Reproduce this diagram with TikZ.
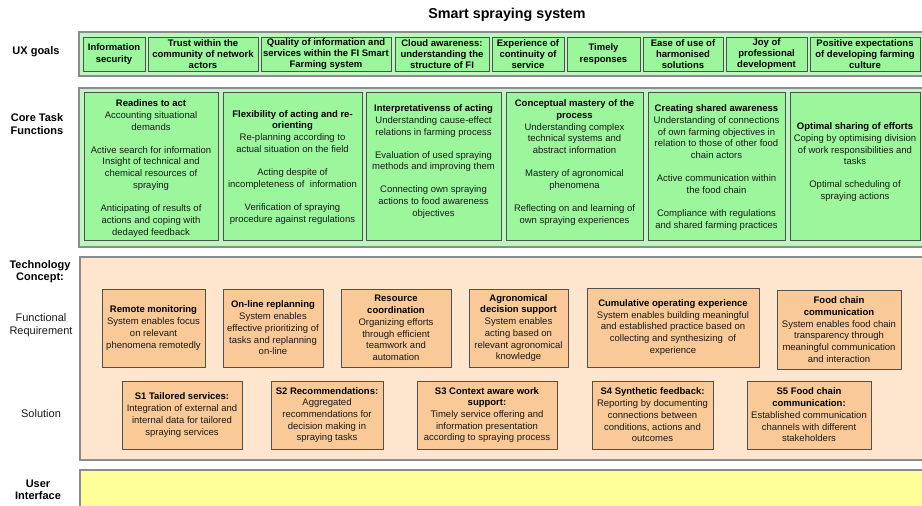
\documentclass[tikz,border=0pt]{standalone}
\usepackage{fontspec}
\setmainfont{Liberation Sans}
\definecolor{greenL}{HTML}{BDF7BD}
\definecolor{greenD}{HTML}{9CF79C}
\definecolor{peachL}{HTML}{FEE6CE}
\definecolor{peachD}{HTML}{F9C997}
\definecolor{yellowL}{HTML}{FFFF99}
\definecolor{bandline}{HTML}{8C8C8C}
\definecolor{boxline}{HTML}{505050}
\definecolor{txt}{HTML}{1A1A1A}
\tikzset{
  band/.style={draw=bandline, line width=1.2pt},
  boxbase/.style={draw=boxline, line width=0.8pt, inner sep=1pt, align=center,
    font=\fontsize{9.5}{11.4}\selectfont, text=txt},
  uxbox/.style={boxbase, fill=greenD, font=\fontsize{9.5}{11.2}\selectfont\bfseries, text=black},
  corebox/.style={boxbase, fill=greenD},
  coretext/.style={inner sep=0pt, align=center, anchor=north, text=txt,
    font=\fontsize{9.5}{11.8}\selectfont},
  techbox/.style={boxbase, fill=peachD, font=\fontsize{9.5}{11.7}\selectfont},
  sidelabel/.style={align=center, font=\fontsize{11}{12.5}\selectfont\bfseries, text=black, inner sep=0pt},
  sideplain/.style={align=center, font=\fontsize{11}{13}\selectfont, text=txt, inner sep=0pt},
  titletext/.style={font=\fontsize{14.3}{16}\selectfont\bfseries, inner sep=0pt}
}
\newcommand{\hd}[1]{\textbf{\color{black}#1}}
\begin{document}
\begin{tikzpicture}[x=1pt, y=-1pt]
\useasboundingbox (0,0) rectangle (922,506);
\fill[white] (0,0) rectangle (922,506);

% title
\node[titletext] (title) at (507,15) {Smart spraying system};

% bands
\path[band, fill=greenL] (79,32) rectangle (924,76);
\path[band, fill=greenL] (79,88) rectangle (924,247);
\path[band, fill=peachL] (80,257) rectangle (924,460);
\path[band, fill=yellowL] (80,470) rectangle (924,510);

% side labels
\node[sidelabel] (lux) at (36,52) {UX goals};
\node[sidelabel] (lcore) at (37,124) {Core Task\\Functions};
\node[sidelabel] (ltech) at (40,271.5) {Technology\\Concept:};
\node[sideplain] (lfr) at (41,325.5) {Functional\\Requirement};
\node[sideplain] (lsol) at (41,414) {Solution};
\node[sidelabel] (lui) at (38,490) {User\\Interface};

% UX goals
\node[uxbox, minimum width=62, minimum height=34] (u1) at (114,54) {Information\\security};
\node[uxbox, minimum width=110, minimum height=34] (u2) at (203,54) {Trust within the\\community of network\\actors};
\node[uxbox, minimum width=130, minimum height=34] (u3) at (326,54) {Quality of information and\\services within the FI Smart\\Farming system};
\node[uxbox, minimum width=94, minimum height=34] (u4) at (442,54) {Cloud awareness:\\understanding the\\structure of FI};
\node[uxbox, minimum width=72, minimum height=34] (u5) at (528,54) {Experience of\\continuity of\\service};
\node[uxbox, minimum width=73, minimum height=34] (u6) at (603.5,54) {Timely\\responses};
\node[uxbox, minimum width=80, minimum height=34] (u7) at (683,54) {Ease of use of\\harmonised\\solutions};
\node[uxbox, minimum width=81, minimum height=34] (u8) at (766.5,54) {Joy of\\professional\\development};
\node[uxbox, minimum width=110, minimum height=34] (u9) at (865,54) {Positive expectations\\of developing farming\\culture};

% Core task functions
\node[corebox, minimum width=134, minimum height=148] (c1) at (151,166) {};
\node[corebox, minimum width=139, minimum height=148] (c2) at (292.5,166) {};
\node[corebox, minimum width=135, minimum height=148] (c3) at (433.5,166) {};
\node[corebox, minimum width=137, minimum height=148] (c4) at (574.5,166) {};
\node[corebox, minimum width=137, minimum height=148] (c5) at (716.5,166) {};
\node[corebox, minimum width=130, minimum height=148] (c6) at (855,166) {};

\node[coretext] (c1t) at (151,99.5) {\hd{Readines to act}\\Accounting situational\\demands\\[11.2pt]Active search for information\\Insight of technical and\\chemical resources of\\spraying\\[11.2pt]Anticipating of results of\\actions and coping with\\dedayed feedback};
\node[coretext] (c2t) at (292.5,110) {\hd{Flexibility of acting and re-}\\\hd{orienting}\\Re-planning according to\\actual situation on the field\\[11.2pt]Acting despite of\\incompleteness of\ \ information\\[11.2pt]Verification of spraying\\procedure against regulations};
\node[coretext] (c3t) at (433.5,104.5) {\hd{Interpretativenss of acting}\\Understanding cause-effect\\relations in farming process\\[11.2pt]Evaluation of used spraying\\methods and improving them\\[11.2pt]Connecting own spraying\\actions to food awareness\\objectives};
\node[coretext] (c4t) at (574.5,99.5) {\hd{Conceptual mastery of the}\\\hd{process}\\Understanding complex\\technical systems and\\abstract information\\[11.2pt]Mastery of agronomical\\phenomena\\[11.2pt]Reflecting on and learning of\\own spraying experiences};
\node[coretext] (c5t) at (716.5,104.5) {\hd{Creating shared awareness}\\Understanding of connections\\of own farming objectives in\\relation to those of other food\\chain actors\\[11.2pt]Active communication within\\the food chain\\[11.2pt]Compliance with regulations\\and shared farming practices};
\node[coretext] (c6t) at (855,122.5) {\hd{Optimal sharing of efforts}\\Coping by optimising division\\of work responsibilities and\\tasks\\[11.2pt]Optimal scheduling of\\spraying actions};

% Functional requirements
\node[techbox, minimum width=103, minimum height=78] (f1) at (153.5,328) {\hd{Remote monitoring}\\System enables focus\\on relevant\\phenomena remotedly};
\node[techbox, minimum width=100, minimum height=78] (f2) at (273,328) {\hd{On-line replanning}\\System enables\\effective prioritizing of\\tasks and replanning\\on-line};
\node[techbox, minimum width=110, minimum height=78] (f3) at (396,328) {\hd{Resource}\\\hd{coordination}\\Organizing efforts\\through efficient\\teamwork and\\automation};
\node[techbox, minimum width=99, minimum height=78] (f4) at (518.5,328) {\hd{Agronomical}\\\hd{decision support}\\System enables\\acting based on\\relevant agronomical\\knowledge};
\node[techbox, minimum width=172, minimum height=79] (f5) at (673,327.5) {\hd{Cumulative operating experience}\\System enables building meaningful\\and established practice based on\\collecting and synthesizing\ \ of\\experience};
\node[techbox, minimum width=124, minimum height=79] (f6) at (839,329.5) {\hd{Food chain}\\\hd{communication}\\System enables food chain\\transparency through\\meaningful communication\\and interaction};

% Solutions
\node[techbox, minimum width=120, minimum height=68] (s1) at (182,415) {\hd{S1 Tailored services:}\\Integration of external and\\internal data for tailored\\spraying services};
\node[techbox, minimum width=112, minimum height=68] (s2) at (327,415) {\hd{S2 Recommendations:}\\Aggregated\\recommendations for\\decision making in\\spraying tasks};
\node[techbox, minimum width=140, minimum height=68] (s3) at (487,415) {\hd{S3 Context aware work}\\\hd{support:}\\Timely service offering and\\information presentation\\according to spraying process};
\node[techbox, minimum width=121, minimum height=68] (s4) at (652.5,415) {\hd{S4 Synthetic feedback:}\\Reporting by documenting\\connections between\\conditions, actions and\\outcomes};
\node[techbox, minimum width=124, minimum height=68] (s5) at (809,415) {\hd{S5 Food chain}\\\hd{communication:}\\Established communication\\channels with different\\stakeholders};
\end{tikzpicture}
\end{document}
